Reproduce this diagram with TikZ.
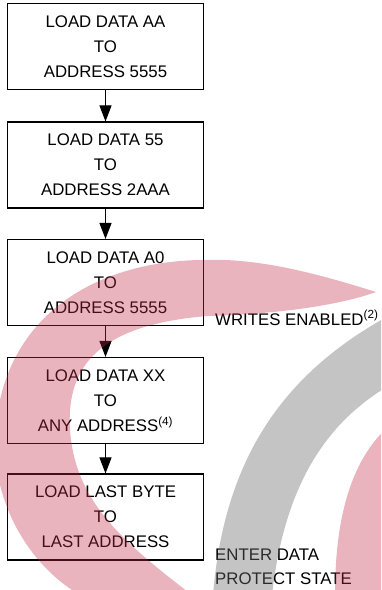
\documentclass[tikz,border=0pt]{standalone}
\usepackage{fontspec}
\setmainfont{Liberation Sans}
\usetikzlibrary{arrows.meta}
\definecolor{wmred}{RGB}{193,41,69}
\definecolor{wmgray}{RGB}{107,107,107}
\begin{document}
\begin{tikzpicture}[x=1pt,y=-1pt,
  stepbox/.style={draw=black,line width=1.1pt,minimum width=196pt,minimum height=86pt,
    inner sep=0pt,align=center,font=\fontsize{16.8}{25}\selectfont},
  flow/.style={line width=1pt,-{Triangle[length=16pt,width=12pt]}},
  note/.style={anchor=base west,inner sep=0pt,font=\fontsize{16.8}{24}\selectfont}]
\useasboundingbox (0,0) rectangle (381,590);
\node[stepbox] (b1) at (105.5,46.5) {LOAD DATA AA\\TO\\ADDRESS 5555};
\node[stepbox] (b2) at (105.5,165) {LOAD DATA 55\\TO\\ADDRESS 2AAA};
\node[stepbox] (b3) at (105.5,282.5) {LOAD DATA A0\\TO\\ADDRESS 5555};
\node[stepbox] (b4) at (105.5,400.5) {LOAD DATA XX\\TO\\ANY ADDRESS\textsuperscript{(4)}};
\node[stepbox] (b5) at (105.5,517) {LOAD LAST BYTE\\TO\\LAST ADDRESS};
\draw[flow] (b1) -- (b2);
\draw[flow] (b2) -- (b3);
\draw[flow] (b3) -- (b4);
\draw[flow] (b4) -- (b5);
\node[note] (we) at (215,325) {WRITES ENABLED\textsuperscript{(2)}};
\node[note] (ed1) at (215,560) {ENTER DATA};
\node[note] (ed2) at (215,584) {PROTECT STATE};
% watermark
\begin{scope}
\clip (0,0) rectangle (381,590);
\fill[wmred,fill opacity=0.35]
  (376,292) .. controls (300,268) and (250,258) .. (200,260)
  .. controls (100,262) and (20,310) .. (0,400)
  .. controls (-20,480) and (20,560) .. (80,595)
  -- (192,595)
  .. controls (120,540) and (75,500) .. (70,430)
  .. controls (66,365) and (100,325) .. (207,316)
  .. controls (280,314) and (340,305) .. (376,292) -- cycle;
\fill[wmgray,fill opacity=0.4]
  (390,315) .. controls (290,370) and (225,450) .. (213,595)
  -- (272,595) .. controls (285,480) and (330,420) .. (390,385) -- cycle;
\fill[wmred,fill opacity=0.35]
  (390,425) .. controls (350,460) and (335,520) .. (335,595)
  -- (390,595) -- cycle;
\end{scope}
\end{tikzpicture}
\end{document}
